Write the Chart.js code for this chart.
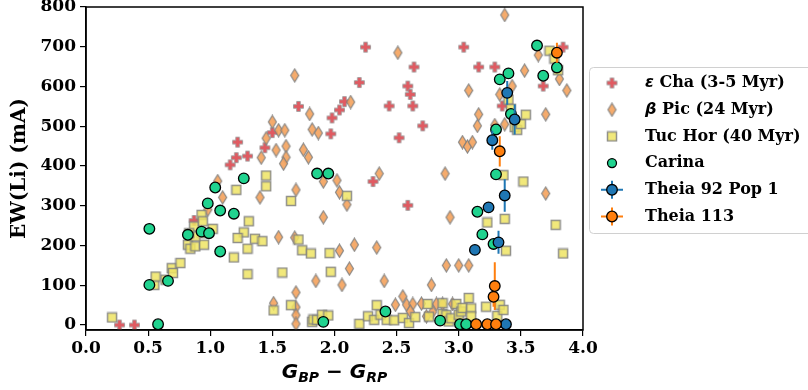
<!DOCTYPE html>
<html>
<head>
<meta charset="utf-8">
<script src="https://cdn.jsdelivr.net/npm/chart.js@4.4.0/dist/chart.umd.min.js"></script>
<style>
  html, body { margin: 0; padding: 0; background: #fff; }
  #wrap { width: 808px; height: 390px; }
</style>
</head>
<body>
<div id="wrap"><canvas id="myChart" width="808" height="390"></canvas></div>
<script>
// tick labels
const xTicks = [0, 0.5, 1.0, 1.5, 2.0, 2.5, 3.0, 3.5, 4.0]
const yTicks = [0, 100, 200, 300, 400, 500, 600, 700, 800]

// eps Cha (3-5 Myr)
const echaX = [0.27, 0.39, 0.87, 1.16, 1.21, 1.22, 1.30, 1.44, 1.50, 1.71, 1.97, 1.98, 2.04, 2.08, 2.20, 2.25,
  2.31, 2.44, 2.52, 2.59, 2.59, 2.61, 2.63, 2.64, 2.71, 3.04, 3.16, 3.29, 3.35, 3.68, 3.84]
const echaY = [0, 0, 263, 403, 421, 460, 425, 446, 484, 550, 481, 521, 541, 562, 610, 699,
  361, 551, 471, 601, 301, 580, 551, 649, 501, 699, 649, 649, 551, 601, 699]

// beta Pic (24 Myr)
const bpicX = [1.06, 1.10, 0.98, 1.40, 1.41, 1.45, 1.50, 1.53, 1.55, 1.60, 1.61, 1.61, 1.59, 1.68, 1.69, 1.55,
  1.68, 1.51, 1.69, 1.69, 1.69, 1.69, 1.80, 1.82, 1.87, 1.75, 1.79, 1.91, 2.02, 2.04, 2.10, 1.91,
  2.04, 2.16, 2.12, 1.85, 2.06, 2.13, 2.36, 2.34, 2.40, 2.51, 2.55, 2.49, 2.58, 2.63, 2.61, 2.70,
  2.74, 2.78, 2.82, 2.87, 2.95, 2.89, 2.93, 2.90, 3.00, 3.08, 3.03, 3.07, 3.11, 3.15, 3.16, 3.08,
  3.29, 3.37, 3.33, 3.43, 3.37, 3.53, 3.64, 3.70, 3.70, 3.81, 3.87, 2.79]
const bpicY = [362, 321, 290, 321, 421, 470, 511, 440, 490, 490, 450, 422, 406, 628, 340, 221,
  220, 55, 82, 45, 25, 3, 531, 492, 483, 441, 422, 361, 364, 334, 303, 271,
  187, 202, 142, 111, 101, 561, 381, 195, 111, 685, 72, 51, 51, 53, 34, 54,
  22, 101, 53, 53, 53, 381, 271, 150, 150, 150, 460, 449, 460, 501, 530, 590,
  503, 505, 580, 601, 780, 640, 679, 530, 331, 619, 590, 33]

// Tuc Hor (40 Myr)
const tucX = [0.21, 0.55, 0.56, 0.64, 0.69, 0.70, 0.76, 0.82, 0.84, 0.88, 0.95, 0.87, 0.93, 0.94, 0.93, 1.02,
  0.88, 0.83, 1.21, 1.27, 1.22, 1.31, 1.30, 1.19, 1.30, 1.45, 1.45, 1.36, 1.42, 1.58, 1.65, 1.65,
  1.51, 1.71, 1.74, 1.81, 1.96, 1.97, 2.10, 1.82, 1.83, 1.86, 1.90, 1.95, 2.20, 2.27, 2.32, 2.34,
  2.37, 2.42, 2.48, 2.55, 2.60, 2.65, 2.75, 2.76, 2.87, 2.87, 2.90, 2.92, 2.94, 2.98, 3.00, 3.02,
  3.03, 3.08, 3.10, 3.10, 3.22, 3.31, 3.33, 3.36, 3.23, 3.37, 3.38, 3.36, 3.52, 3.78, 3.84, 3.40,
  3.42, 3.45, 3.47, 3.50, 3.54, 3.73, 3.77, 3.80]
const tucY = [19, 101, 122, 114, 143, 131, 156, 202, 192, 198, 202, 248, 277, 261, 231, 242,
  223, 231, 340, 233, 219, 261, 192, 170, 128, 376, 349, 217, 211, 132, 312, 50,
  37, 215, 188, 180, 181, 134, 325, 8, 14, 13, 26, 24, 3, 22, 13, 50,
  26, 13, 12, 18, 5, 20, 53, 21, 28, 55, 25, 9, 17, 53, 26, 34,
  43, 68, 42, 22, 46, 23, 51, 38, 258, 267, 187, 377, 361, 252, 180, 567,
  544, 498, 491, 506, 529, 690, 670, 641]

// Carina
const carX = [0.51, 0.51, 0.58, 0.66, 0.82, 0.93, 0.99, 0.98, 1.04, 1.08, 1.08, 1.19, 1.27, 1.86, 1.95, 1.91,
  2.41, 2.85, 3.01, 3.06, 3.15, 3.19, 3.28, 3.30, 3.30, 3.33, 3.40, 3.42, 3.63, 3.68, 3.79]
const carY = [242, 101, 2, 111, 227, 235, 231, 306, 346, 288, 185, 280, 369, 381, 381, 8,
  34, 11, 2, 2, 285, 228, 204, 379, 492, 618, 633, 531, 703, 627, 648]

// Theia 92 Pop 1
const t92X = [3.13, 3.24, 3.32, 3.37, 3.38, 3.39, 3.45, 3.27]
const t92Y = [189, 296, 208, 326, 2, 584, 517, 465]
const t92Err = [0, 0, 29, 41, 0, 30, 38, 24]

// Theia 113
const t113X = [3.14, 3.23, 3.30, 3.28, 3.29, 3.33, 3.79]
const t113Y = [2, 2, 2, 71, 98, 437, 685]
const t113Err = [0, 0, 0, 25, 60, 38, 25]

const blue = '#1f77b4'
const orange = '#ff7f0e'
const green = '#20d38f'

function pts(xs, ys) {
  return xs.map((x, i) => ({ x: x, y: ys[i] }))
}

function errSegments(xs, ys, es) {
  const out = []
  xs.forEach((x, i) => {
    if (es[i] > 0) {
      out.push({ x: x, y: ys[i] - es[i] }, { x: x, y: ys[i] + es[i] }, { x: x, y: null })
    }
  })
  return out
}

// marker images
function plusImg() {
  const c = document.createElement('canvas')
  c.width = 13; c.height = 13
  const g = c.getContext('2d')
  const m = 6.5, a = 5, t = 1.8
  g.beginPath()
  g.moveTo(m - t, m - a); g.lineTo(m + t, m - a); g.lineTo(m + t, m - t); g.lineTo(m + a, m - t)
  g.lineTo(m + a, m + t); g.lineTo(m + t, m + t); g.lineTo(m + t, m + a); g.lineTo(m - t, m + a)
  g.lineTo(m - t, m + t); g.lineTo(m - a, m + t); g.lineTo(m - a, m - t); g.lineTo(m - t, m - t)
  g.closePath()
  g.fillStyle = 'rgba(222,72,80,0.9)'
  g.fill()
  g.strokeStyle = 'rgba(150,150,150,0.8)'
  g.lineWidth = 1
  g.stroke()
  return c
}

function diamondImg() {
  const c = document.createElement('canvas')
  c.width = 11; c.height = 15
  const g = c.getContext('2d')
  g.beginPath()
  g.moveTo(5.5, 1.0); g.lineTo(9.5, 7.5); g.lineTo(5.5, 14.0); g.lineTo(1.5, 7.5)
  g.closePath()
  g.fillStyle = 'rgba(244,162,92,0.9)'
  g.fill()
  g.strokeStyle = 'rgba(128,128,128,0.9)'
  g.lineWidth = 1.2
  g.stroke()
  return c
}

function squareImg() {
  const c = document.createElement('canvas')
  c.width = 12; c.height = 12
  const g = c.getContext('2d')
  g.fillStyle = 'rgba(238,228,100,0.85)'
  g.fillRect(1.5, 1.5, 9, 9)
  g.strokeStyle = 'rgba(128,128,128,0.85)'
  g.lineWidth = 1.5
  g.strokeRect(1.5, 1.5, 9, 9)
  return c
}

const plusPt = plusImg()
const diamondPt = diamondImg()
const squarePt = squareImg()

const legendItems = [
  { greek: 'ε', text: ' Cha (3-5 Myr)', kind: 'img', img: plusPt },
  { greek: 'β', text: ' Pic (24 Myr)', kind: 'img', img: diamondPt },
  { greek: '', text: 'Tuc Hor (40 Myr)', kind: 'img', img: squarePt },
  { greek: '', text: 'Carina', kind: 'circle', color: green, bar: false },
  { greek: '', text: 'Theia 92 Pop 1', kind: 'circle', color: blue, bar: true },
  { greek: '', text: 'Theia 113', kind: 'circle', color: orange, bar: true }
]

const extras = {
  id: 'extras',
  afterDraw(chart) {
    const ctx = chart.ctx
    const a = chart.chartArea
    ctx.save()
    // frame
    ctx.strokeStyle = '#000'
    ctx.lineWidth = 1.5
    ctx.strokeRect(a.left, a.top, a.right - a.left, a.bottom - a.top)

    // x title  G_BP - G_RP
    const big = 'italic bold 20px "DejaVu Sans"'
    const sub = 'italic bold 14px "DejaVu Sans"'
    const minus = 'bold 20px "DejaVu Sans"'
    const parts = [
      [big, 'G', 0], [sub, 'BP', 4], [minus, ' \u2212 ', 0], [big, 'G', 0], [sub, 'RP', 4]
    ]
    let total = 0
    parts.forEach(p => { ctx.font = p[0]; total += ctx.measureText(p[1]).width })
    let x = (a.left + a.right) / 2 - total / 2
    const base = 378
    ctx.fillStyle = '#000'
    ctx.textBaseline = 'alphabetic'
    ctx.textAlign = 'left'
    parts.forEach(p => {
      ctx.font = p[0]
      ctx.fillText(p[1], x, base + p[2])
      x += ctx.measureText(p[1]).width
    })

    // legend
    const lx = 589.5, ly = 67.5
    ctx.beginPath()
    ctx.roundRect(lx, ly, 240, 166, 4)
    ctx.fillStyle = 'rgba(255,255,255,0.8)'
    ctx.fill()
    ctx.strokeStyle = '#d0d0d0'
    ctx.lineWidth = 1
    ctx.stroke()
    legendItems.forEach((it, i) => {
      const cy = 83 + i * 26.7
      const mx = 612
      if (it.kind === 'img') {
        ctx.drawImage(it.img, mx - it.img.width / 2, cy - it.img.height / 2)
      } else {
        if (it.bar) {
          ctx.strokeStyle = it.color
          ctx.lineWidth = 2
          ctx.beginPath()
          ctx.moveTo(mx - 11, cy); ctx.lineTo(mx + 11, cy)
          ctx.moveTo(mx, cy - 9); ctx.lineTo(mx, cy + 9)
          ctx.stroke()
        }
        ctx.beginPath()
        ctx.arc(mx, cy, it.bar ? 5.3 : 4.5, 0, Math.PI * 2)
        ctx.fillStyle = it.color
        ctx.fill()
        ctx.strokeStyle = '#000'
        ctx.lineWidth = 1.3
        ctx.stroke()
      }
      let tx = 645
      ctx.fillStyle = '#000'
      ctx.textBaseline = 'middle'
      if (it.greek) {
        ctx.font = 'italic bold 16px "DejaVu Sans"'
        ctx.fillText(it.greek, tx, cy)
        tx += ctx.measureText(it.greek).width
      }
      ctx.font = 'bold 16px "DejaVu Serif"'
      ctx.fillText(it.text, tx, cy)
    })
    ctx.restore()
  }
}

Chart.defaults.color = '#000'
Chart.defaults.font.family = '"DejaVu Serif"'

const ctx = document.getElementById('myChart').getContext('2d')
new Chart(ctx, {
  type: 'scatter',
  data: {
    datasets: [
      {
        label: 'eps Cha (3-5 Myr)', data: pts(echaX, echaY),
        pointStyle: plusPt, order: 7
      },
      {
        label: 'beta Pic (24 Myr)', data: pts(bpicX, bpicY),
        pointStyle: diamondPt, order: 6
      },
      {
        label: 'Tuc Hor (40 Myr)', data: pts(tucX, tucY),
        pointStyle: squarePt, order: 5
      },
      {
        label: 'Carina', data: pts(carX, carY),
        pointStyle: 'circle', pointRadius: 5.3, backgroundColor: green,
        borderColor: '#000', borderWidth: 1.3, order: 4
      },
      {
        label: 'Theia 92 err', data: errSegments(t92X, t92Y, t92Err),
        showLine: true, pointRadius: 0, borderColor: blue, borderWidth: 2, spanGaps: false, order: 3
      },
      {
        label: 'Theia 92 Pop 1', data: pts(t92X, t92Y),
        pointStyle: 'circle', pointRadius: 5.3, backgroundColor: blue,
        borderColor: '#000', borderWidth: 1.3, order: 2
      },
      {
        label: 'Theia 113 err', data: errSegments(t113X, t113Y, t113Err),
        showLine: true, pointRadius: 0, borderColor: orange, borderWidth: 2, spanGaps: false, order: 1
      },
      {
        label: 'Theia 113', data: pts(t113X, t113Y),
        pointStyle: 'circle', pointRadius: 5.3, backgroundColor: orange,
        borderColor: '#000', borderWidth: 1.3, order: 0
      }
    ]
  },
  options: {
    responsive: false,
    animation: false,
    devicePixelRatio: 1,
    events: [],
    layout: { padding: { top: 7, right: 225, left: 0, bottom: 0 } },
    plugins: {
      legend: { display: false },
      tooltip: { enabled: false }
    },
    scales: {
      x: {
        type: 'linear', min: 0, max: 4,
        afterBuildTicks: s => { s.ticks = xTicks.map(v => ({ value: v })) },
        afterFit: s => { s.height = 60; s.paddingLeft = 0; s.paddingRight = 0 },
        ticks: {
          font: { size: 17, weight: 'bold' }, padding: 2,
          callback: v => Number(v).toFixed(1)
        },
        grid: { display: true, drawOnChartArea: false, drawTicks: true, tickLength: 6, color: '#000', lineWidth: 1.2 },
        border: { display: true, color: '#000', width: 1.5 }
      },
      y: {
        type: 'linear', min: -12.5, max: 800,
        afterBuildTicks: s => { s.ticks = yTicks.map(v => ({ value: v })) },
        afterFit: s => { s.width = 86; s.paddingTop = 0; s.paddingBottom = 0 },
        ticks: { font: { size: 17, weight: 'bold' }, padding: 4 },
        grid: { display: true, drawOnChartArea: false, drawTicks: true, tickLength: 6, color: '#000', lineWidth: 1.2 },
        border: { display: true, color: '#000', width: 1.5 },
        title: {
          display: true, text: 'EW(Li) (mA)',
          font: { size: 20, weight: 'bold' }, padding: { top: 8, bottom: 0 }
        }
      }
    }
  },
  plugins: [extras]
})
</script>
</body>
</html>
